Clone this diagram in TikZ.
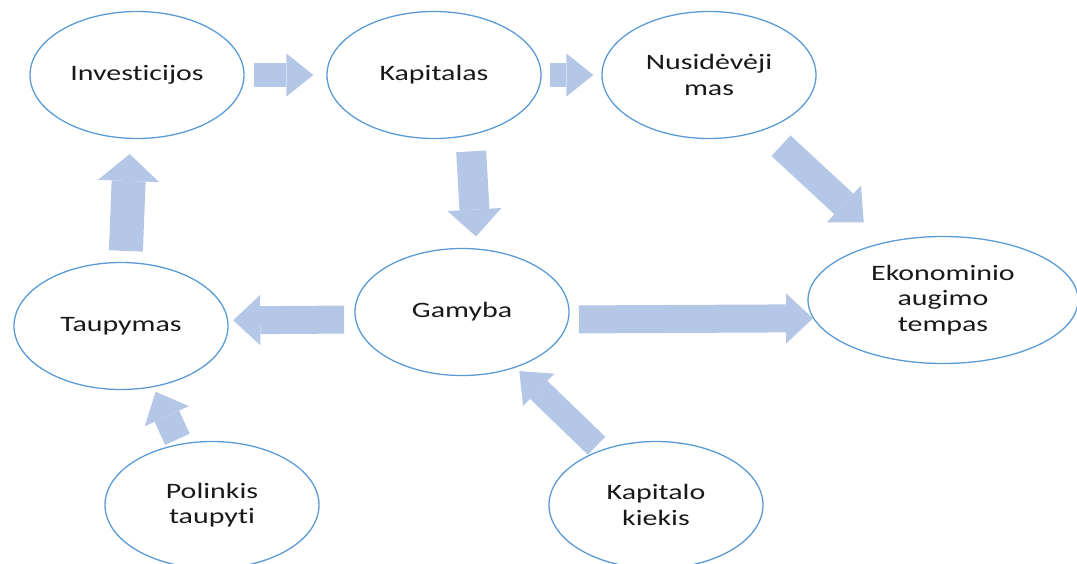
\documentclass[tikz,border=0pt]{standalone}
\usepackage{fontspec}
\setmainfont{Carlito}[FakeStretch=1.36, Ligatures=NoCommon]
\usetikzlibrary{shapes.geometric,arrows.meta,positioning}
\definecolor{ringblue}{RGB}{91,155,213}
\definecolor{flowblue}{RGB}{180,199,231}
\tikzset{
  bubble/.style={ellipse, draw=ringblue, line width=1.3pt, minimum width=214pt, minimum height=127pt,
    inner sep=0pt, align=center, font=\fontsize{22}{25.5}\selectfont, text=black!90},
  flow/.style={color=flowblue, line width=#1, -{Triangle[length=27pt, width=0pt 1.8, line width=0pt 0 0]}},
  flow/.default=26pt
}
\begin{document}
\begin{tikzpicture}[x=1pt,y=-1pt]
\useasboundingbox (0,0) rectangle (1077,563);

% top row
\node (invest) at (137,75) [bubble] {Investicijos};
\node (kapital) at (434,75) [bubble] {Kapitalas};
\node (nusid) at (709,75) [bubble] {Nusidėvėji\\mas};

% middle row
\node (taup) at (121,326) [bubble] {Taupymas};
\node (gamyba) at (462,312) [bubble] {Gamyba};
\node (ekon) at (943,300) [bubble, minimum width=270pt] {Ekonominio\\augimo\\tempas};

% bottom row
\node (polink) at (212,505) [bubble] {Polinkis\\taupyti};
\node (kkiek) at (656,505) [bubble] {Kapitalo\\kiekis};

\draw [flow=24pt, shorten <=9pt, shorten >=13pt] (invest.east) -- (kapital.west);
\draw [flow=24pt, shorten <=8pt, shorten >=8pt] (kapital.east) -- (nusid.west);
\draw [flow=30pt, shorten <=16pt, shorten >=12pt] (kapital.-59) -- (gamyba.77);
\draw [flow=28pt, shorten <=23pt, shorten >=29pt] (nusid.-45) -- (ekon.135);
\draw [flow=28pt, shorten <=10pt] (gamyba.-4) -- (ekon.188);
\draw [flow=28pt, shorten <=11pt, shorten >=5pt] (gamyba.184) -- (taup.3);
\draw [flow=34pt, shorten <=11pt, shorten >=15pt] (taup.86) -- (invest.-96);
\draw [flow=27pt, shorten <=5pt, shorten >=5pt] (polink.118) -- (taup.-62);
\draw [flow=25pt, shorten <=6pt, shorten >=5pt] (kkiek.135) -- (gamyba.-46);

\end{tikzpicture}
\end{document}
